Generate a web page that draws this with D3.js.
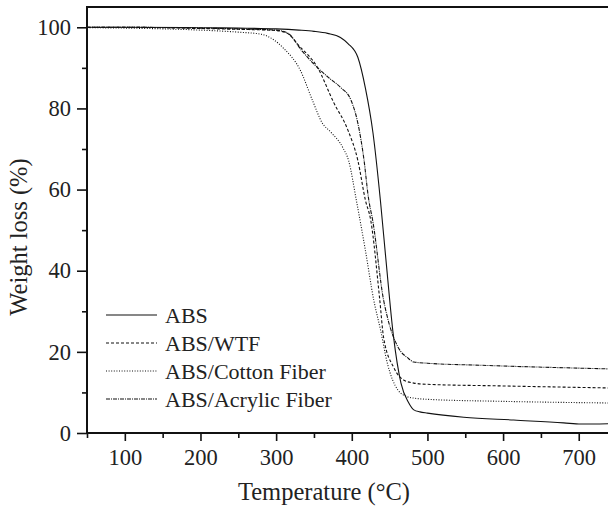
<!DOCTYPE html>
<html>
<head>
<meta charset="utf-8">
<script src="https://cdn.jsdelivr.net/npm/d3@7"></script>
<style>
  body { margin: 0; background: #fff; }
  svg { display: block; }
  text { font-family: "Liberation Serif", "DejaVu Serif", serif; fill: #222; }
</style>
</head>
<body>
<svg id="chart" width="608" height="507"></svg>
<script>
// TGA curves (temperature in °C, weight %)
var absTemp = [50, 100, 200, 250, 300, 330, 350, 368, 385, 395, 408, 418, 428, 438, 445, 455, 465, 475, 482, 490, 500, 548, 614, 680, 703, 740];
var absVal  = [100, 100, 99.9, 99.8, 99.6, 99.3, 99, 98.5, 97.5, 96, 92.6, 85, 74, 57, 43, 24, 12.3, 7.5, 5.7, 5.2, 4.9, 3.9, 3.2, 2.5, 2.2, 2.3];

var wtfTemp = [50, 100, 200, 250, 300, 315, 330, 355, 376, 395, 408, 418, 425, 437, 442, 455, 469, 482, 500, 600, 740];
var wtfVal  = [100, 100, 99.7, 99.5, 99.2, 98.5, 95.5, 90, 81.5, 74.6, 67.2, 57.4, 52.5, 32.8, 23.6, 16.3, 13, 12.3, 12, 11.6, 11.1];

var cottonTemp = [50, 100, 200, 250, 280, 310, 332, 348, 361, 372, 388, 396, 406, 418, 429, 438, 447, 461, 474, 482, 500, 600, 740];
var cottonVal  = [99.9, 99.8, 99.3, 98.8, 98.3, 94.8, 89.4, 82, 76.4, 74.2, 70.4, 67, 57.4, 45, 32.8, 25.4, 17.2, 10.6, 8.9, 8.6, 8.3, 7.8, 7.4];

var acrylicTemp = [50, 100, 200, 250, 300, 315, 335, 355, 370, 385, 399, 408, 416, 422, 428, 442, 447, 461, 474, 482, 500, 570, 740];
var acrylicVal  = [100, 100, 99.8, 99.6, 99.3, 98.6, 94, 90, 87.5, 85.2, 82, 76.4, 67.5, 58, 52, 32.8, 28.6, 21.2, 18.5, 17.5, 17.2, 16.7, 15.8];

var seriesNames = ["ABS", "ABS/WTF", "ABS/Cotton Fiber", "ABS/Acrylic Fiber"];
var xTicks = [100, 200, 300, 400, 500, 600, 700];
var yTicks = [0, 20, 40, 60, 80, 100];

var series = [
    { name: seriesNames[0], temp: absTemp, val: absVal, dash: null },
    { name: seriesNames[1], temp: wtfTemp, val: wtfVal, dash: "3,2" },
    { name: seriesNames[2], temp: cottonTemp, val: cottonVal, dash: "1,1.6" },
    { name: seriesNames[3], temp: acrylicTemp, val: acrylicVal, dash: "4,1,1,1" }
];

var svg = d3.select("#chart");
var mLeft = 87, mTop = 7, mBottom = 433, mRight = 609;

var x = d3.scaleLinear().domain([50, 740]).range([mLeft, mRight]);
var y = d3.scaleLinear().domain([0, 105]).range([mBottom, mTop]);

var line = d3.line()
    .x(function(d) { return x(d[0]); })
    .y(function(d) { return y(d[1]); })
    .curve(d3.curveMonotoneX);

svg.append("defs").append("clipPath").attr("id", "plotclip")
    .append("rect").attr("x", mLeft).attr("y", mTop).attr("width", mRight - mLeft).attr("height", mBottom - mTop);

// curves
svg.append("g").attr("clip-path", "url(#plotclip)")
    .selectAll("path")
    .data(series)
    .join("path")
    .attr("d", function(s) { return line(s.temp.map(function(t, i) { return [t, s.val[i]]; })); })
    .attr("fill", "none")
    .attr("stroke", "#111")
    .attr("stroke-width", 1.1)
    .attr("stroke-dasharray", function(s) { return s.dash; });

// minor ticks
var xMinor = d3.range(50, 751, 100);
var yMinor = d3.range(10, 100, 20);

svg.append("g").attr("transform", "translate(0," + mBottom + ")")
    .call(d3.axisBottom(x).tickValues(xTicks).tickSize(8).tickPadding(8).tickFormat(d3.format("d")));
svg.append("g").attr("transform", "translate(0," + mBottom + ")")
    .call(d3.axisBottom(x).tickValues(xMinor).tickSize(5).tickFormat(""));

svg.append("g").attr("transform", "translate(" + mLeft + ",0)")
    .call(d3.axisLeft(y).tickValues(yTicks).tickSize(10).tickPadding(6).tickFormat(d3.format("d")));
svg.append("g").attr("transform", "translate(" + mLeft + ",0)")
    .call(d3.axisLeft(y).tickValues(yMinor).tickSize(5).tickFormat(""));

svg.selectAll(".domain").remove();
svg.selectAll(".tick line").attr("stroke", "#111").attr("stroke-width", 1.6);
svg.selectAll(".tick text").style("font-size", "22.5px").attr("fill", "#222");

// spines
svg.append("line").attr("x1", mLeft).attr("x2", mLeft).attr("y1", mTop).attr("y2", mBottom + 1)
    .attr("stroke", "#111").attr("stroke-width", 2);
svg.append("line").attr("x1", mLeft - 1).attr("x2", mRight).attr("y1", mBottom).attr("y2", mBottom)
    .attr("stroke", "#111").attr("stroke-width", 2);
svg.append("line").attr("x1", mLeft - 1).attr("x2", mRight).attr("y1", mTop).attr("y2", mTop)
    .attr("stroke", "#111").attr("stroke-width", 2);

// axis titles
svg.append("text").attr("x", 324).attr("y", 500).attr("text-anchor", "middle")
    .style("font-size", "24.5px").text("Temperature (°C)");
svg.append("text").attr("transform", "translate(27,237) rotate(-90)").attr("text-anchor", "middle")
    .style("font-size", "24.5px").text("Weight loss (%)");

// legend
var legend = svg.append("g").selectAll("g")
    .data(series)
    .join("g")
    .attr("transform", function(d, i) { return "translate(106," + (315 + i * 28) + ")"; });
legend.append("line").attr("x1", 0).attr("x2", 51).attr("y1", 0).attr("y2", 0)
    .attr("stroke", "#111").attr("stroke-width", 1.1)
    .attr("stroke-dasharray", function(s) { return s.dash; });
legend.append("text").attr("x", 59).attr("y", 7.5).style("font-size", "22px")
    .text(function(s) { return s.name; });
</script>
</body>
</html>
